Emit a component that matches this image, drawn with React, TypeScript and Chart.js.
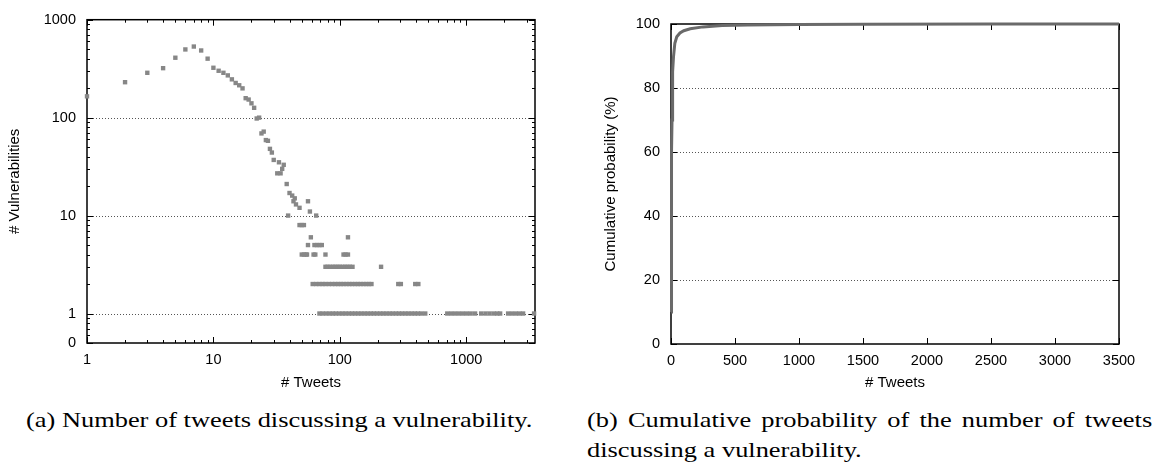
import React, { useEffect, useRef } from "react";
import { Chart, registerables } from "chart.js";

Chart.register(...registerables);

// ---------- Data: left chart (# vulnerabilities vs # tweets) ----------
const peakX = [1, 2, 3, 4, 5, 6, 7, 8, 9, 10, 11, 12, 13, 14, 15, 16, 17, 18, 19, 20, 21, 22, 23, 24, 25, 26, 27, 28, 29, 30, 32, 33, 34, 35, 36, 38, 39, 40, 42, 43, 44, 45, 48, 56, 58, 65];
const peakY = [165, 230, 287, 320, 409, 497, 532, 485, 400, 323, 301, 287, 270, 246, 226, 214, 199, 158, 153, 140, 126, 98, 100, 69, 72, 59, 58, 48, 44, 37, 27, 35, 27, 30, 33, 21, 10, 17, 16, 14, 15, 13, 12, 14, 11, 10];
const row8X = [48, 50, 52];
const row6X = [59, 116];
const row5X = [56, 63, 66, 69, 72];
const row4X = [50, 52, 54, 55, 62, 64, 77, 107, 111, 116];
const row3X = [77, 80, 84, 88, 92, 96, 100, 105, 110, 115, 120, 126, 212];
const row2X = [61, 65, 69, 73, 77, 82, 87, 92, 97, 102, 107, 113, 119, 125, 132, 139, 146, 154, 162, 170, 178, 290, 304, 395, 418];
const row1X = [69, 73, 78, 83, 88, 93, 99, 105, 111, 118, 125, 132, 140, 148, 157, 166, 176, 186, 197, 209, 221, 234, 248, 262, 278, 294, 311, 330, 349, 370, 392, 415, 440, 474, 708, 760, 815, 875, 940, 1010, 1085, 1175, 1313, 1420, 1530, 1650, 1760, 1855, 2145, 2300, 2470, 2640, 2818, 3442];

// ---------- Data: right chart (CDF) ----------
const cdfX = [1, 2, 4, 6, 8, 10, 15, 20, 30, 45, 70, 100, 150, 250, 400, 600, 1000, 1500, 2500, 3500];
const cdfY = [10, 24, 45, 60, 70, 77, 85, 90, 94, 96, 97.2, 97.9, 98.5, 99.1, 99.5, 99.7, 99.85, 99.92, 99.97, 100];

// ---------- Tick labels ----------
const leftXTicks = [1, 10, 100, 1000];
const leftYTicks = [0.5, 1, 10, 100, 1000];
const leftYGrid = [1, 10, 100];
const rightXTicks = [0, 500, 1000, 1500, 2000, 2500, 3000, 3500];
const rightYTicks = [0, 20, 40, 60, 80, 100];
const rightYGrid = [20, 40, 60, 80];

const SANS = "'Liberation Sans', Arial, Helvetica, sans-serif";
const SERIF = "'Liberation Serif', 'Times New Roman', serif";
const TICK_FONT = { family: SANS, size: 14.5 };
const TITLE_FONT = { family: SANS, size: 15 };

function logMinors(decades: number[], extra: number[] = []) {
  const out: number[] = [...extra];
  for (const d of decades) for (let k = 2; k <= 9; k++) out.push(d * k);
  return out;
}

const frameTicks = {
  id: "frameTicks",
  beforeDatasetsDraw(chart: any, _args: any, opts: any) {
    const { ctx, chartArea } = chart;
    const { left, right, top, bottom } = chartArea;
    const xs = chart.scales.x;
    const ys = chart.scales.y;
    ctx.save();
    ctx.strokeStyle = "#555";
    ctx.lineWidth = 1;
    ctx.setLineDash([1, 2]);
    for (const v of opts.gridY || []) {
      const y = Math.round(ys.getPixelForValue(v)) + 0.5;
      ctx.beginPath();
      ctx.moveTo(left, y);
      ctx.lineTo(right, y);
      ctx.stroke();
    }
    ctx.setLineDash([]);
    ctx.strokeStyle = "#000";
    ctx.lineWidth = 1;
    const tickX = (vals: number[], len: number) => {
      for (const v of vals) {
        const x = Math.round(xs.getPixelForValue(v)) + 0.5;
        if (x < left - 1 || x > right + 1) continue;
        ctx.beginPath();
        ctx.moveTo(x, bottom);
        ctx.lineTo(x, bottom - len);
        ctx.moveTo(x, top);
        ctx.lineTo(x, top + len);
        ctx.stroke();
      }
    };
    const tickY = (vals: number[], len: number) => {
      for (const v of vals) {
        const y = Math.round(ys.getPixelForValue(v)) + 0.5;
        if (y < top - 1 || y > bottom + 1) continue;
        ctx.beginPath();
        ctx.moveTo(left, y);
        ctx.lineTo(left + len, y);
        ctx.moveTo(right, y);
        ctx.lineTo(right - len, y);
        ctx.stroke();
      }
    };
    tickX(opts.majorX || [], 6);
    tickX(opts.minorX || [], 3);
    tickY(opts.majorY || [], 6);
    tickY(opts.minorY || [], 3);
    ctx.lineWidth = 1.5;
    ctx.strokeRect(left, top, right - left, bottom - top);
    ctx.restore();
  },
};

function LeftChart() {
  const ref = useRef<HTMLCanvasElement>(null);
  useEffect(() => {
    const pts: { x: number; y: number }[] = [];
    peakX.forEach((x, i) => pts.push({ x, y: peakY[i] }));
    const rows: [number[], number][] = [[row8X, 8], [row6X, 6], [row5X, 5], [row4X, 4], [row3X, 3], [row2X, 2], [row1X, 1]];
    rows.forEach(([xs, y]) => xs.forEach((x) => pts.push({ x, y })));
    const chart = new Chart(ref.current!, {
      type: "scatter",
      data: {
        datasets: [
          {
            data: pts,
            pointStyle: "rect",
            pointRadius: 3.1,
            pointBackgroundColor: "#878787",
            pointBorderWidth: 0,
            clip: false,
          } as any,
        ],
      },
      options: {
        animation: false,
        responsive: false,
        devicePixelRatio: 1,
        layout: { padding: { top: 15, right: 25, left: 0, bottom: 0 } },
        plugins: {
          legend: { display: false },
          tooltip: { enabled: false },
          frameTicks: {
            gridY: leftYGrid,
            majorX: leftXTicks,
            minorX: logMinors([1, 10, 100, 1000]),
            majorY: leftYTicks,
            minorY: logMinors([1, 10, 100], [0.6, 0.7, 0.8, 0.9]),
          },
        } as any,
        scales: {
          x: {
            type: "logarithmic",
            min: 1,
            max: 3500,
            afterBuildTicks: (s: any) => {
              s.ticks = leftXTicks.map((value) => ({ value }));
            },
            afterFit: (s: any) => {
              s.height = 57;
            },
            ticks: {
              font: TICK_FONT,
              color: "#000",
              padding: 8,
              maxRotation: 0,
              autoSkip: false,
              callback: (v: any) => String(v),
            },
            grid: { display: false, drawTicks: false },
            border: { display: false },
            title: { display: true, text: "# Tweets", font: TITLE_FONT, color: "#000", padding: { top: 0, bottom: 8 } },
          },
          y: {
            type: "logarithmic",
            min: 0.5,
            max: 1000,
            afterBuildTicks: (s: any) => {
              s.ticks = leftYTicks.map((value) => ({ value }));
            },
            afterFit: (s: any) => {
              s.width = 87;
            },
            ticks: {
              font: TICK_FONT,
              color: "#000",
              padding: 11,
              autoSkip: false,
              callback: (v: any) => (v === 0.5 ? "0" : String(v)),
            },
            grid: { display: false, drawTicks: false },
            border: { display: false },
            title: { display: true, text: "# Vulnerabilities", font: TITLE_FONT, color: "#000", padding: { top: 6, bottom: 0 } },
          },
        },
      },
      plugins: [frameTicks as any],
    });
    return () => chart.destroy();
  }, []);
  return <canvas ref={ref} width={560} height={400} style={{ position: "absolute", left: 0, top: 0, width: 560, height: 400 }} />;
}

function RightChart() {
  const ref = useRef<HTMLCanvasElement>(null);
  useEffect(() => {
    const pts = cdfX.map((x, i) => ({ x, y: cdfY[i] }));
    const chart = new Chart(ref.current!, {
      type: "line",
      data: {
        datasets: [
          {
            data: pts,
            borderColor: "#6a6a6a",
            borderWidth: 3,
            pointRadius: 0,
            fill: false,
            tension: 0,
            clip: false,
          } as any,
        ],
      },
      options: {
        animation: false,
        responsive: false,
        devicePixelRatio: 1,
        layout: { padding: { top: 24, right: 47, left: 0, bottom: 0 } },
        plugins: {
          legend: { display: false },
          tooltip: { enabled: false },
          frameTicks: {
            gridY: rightYGrid,
            majorX: rightXTicks,
            majorY: rightYTicks,
          },
        } as any,
        scales: {
          x: {
            type: "linear",
            min: 0,
            max: 3500,
            afterBuildTicks: (s: any) => {
              s.ticks = rightXTicks.map((value) => ({ value }));
            },
            afterFit: (s: any) => {
              s.height = 56;
            },
            ticks: {
              font: TICK_FONT,
              color: "#000",
              padding: 8,
              maxRotation: 0,
              autoSkip: false,
              callback: (v: any) => String(v),
            },
            grid: { display: false, drawTicks: false },
            border: { display: false },
            title: { display: true, text: "# Tweets", font: TITLE_FONT, color: "#000", padding: { top: 0, bottom: 8 } },
          },
          y: {
            type: "linear",
            min: 0,
            max: 100,
            afterBuildTicks: (s: any) => {
              s.ticks = rightYTicks.map((value) => ({ value }));
            },
            afterFit: (s: any) => {
              s.width = 91;
            },
            ticks: { font: TICK_FONT, color: "#000", padding: 11, autoSkip: false, callback: (v: any) => String(v) },
            grid: { display: false, drawTicks: false },
            border: { display: false },
            title: { display: true, text: "Cumulative probability (%)", font: TITLE_FONT, color: "#000", padding: { top: 22, bottom: 0 } },
          },
        },
      },
      plugins: [frameTicks as any],
    });
    return () => chart.destroy();
  }, []);
  return <canvas ref={ref} width={586} height={400} style={{ position: "absolute", left: 580, top: 0, width: 586, height: 400 }} />;
}

const captionStyle: React.CSSProperties = {
  position: "absolute",
  top: 405,
  fontFamily: SERIF,
  fontSize: 22,
  lineHeight: "30px",
  color: "#000",
  transform: "scaleX(1.2)",
  transformOrigin: "0 0",
};

export default function App() {
  return (
    <div style={{ position: "absolute", left: 0, top: 0, width: 1166, height: 466, background: "#fff", overflow: "hidden" }}>
      <LeftChart />
      <RightChart />
      <div style={{ ...captionStyle, left: 26, whiteSpace: "nowrap" }}>
        (a) Number of tweets discussing a vulnerability.
      </div>
      <div style={{ ...captionStyle, left: 587, width: 471, textAlign: "justify", textAlignLast: "left" }}>
        (b) Cumulative probability of the number of tweets discussing a vulnerability.
      </div>
    </div>
  );
}
